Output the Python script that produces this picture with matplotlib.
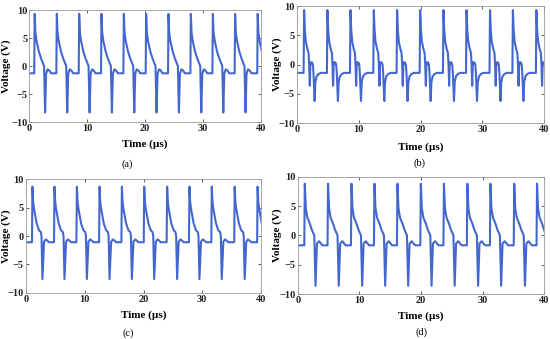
import numpy as np
import matplotlib
matplotlib.use("Agg")
import matplotlib.pyplot as plt

# ---------------- data ----------------
# rise instants (µs) of each pulse, per panel
rise_a = [0.85, 4.67, 8.53, 12.38, 16.24, 20.09, 23.95, 27.81, 31.61, 35.45, 39.35]
rise_b = [1.07, 4.84, 8.57, 12.34, 16.11, 19.84, 23.61, 27.34, 31.14, 34.84, 38.64]
rise_c = [1.02, 4.77, 8.58, 12.44, 16.24, 20.04, 23.94, 27.74, 31.54, 35.44, 39.34]
rise_d = [1.07, 4.84, 8.64, 12.37, 16.10, 19.89, 23.64, 27.44, 31.18, 35.04, 38.74]

# one pulse shape per panel: time after rise (µs) and voltage (V)
dt_a = [0, 0.08, 0.2, 0.4, 0.8, 1.2, 1.5, 1.7, 1.78, 1.88, 2.05, 2.3, 2.6, 2.9]
v_a = [-1.3, 9.3, 6.0, 4.5, 2.6, 1.3, 0.5, 0.0, -3.5, -8.3, -1.4, -0.6, -0.8, -1.3]

dt_b = [0, 0.08, 0.2, 0.35, 0.6, 0.8, 0.9, 1.0, 1.1, 1.2, 1.35, 1.5, 1.6, 1.7, 1.78, 1.9, 2.1, 2.4, 2.8]
v_b = [-1.4, 9.3, 6.0, 4.0, 2.7, 2.0, 0.0, -3.6, 0.4, 0.2, 0.4, 0.0, -1.5, -4.0, -6.2, -3.0, -2.0, -1.6, -1.4]

dt_c = [0, 0.08, 0.2, 0.35, 0.8, 1.2, 1.5, 1.62, 1.7, 1.78, 2.05, 2.35, 2.6, 2.9]
v_c = [-1.1, 8.7, 6.0, 4.8, 2.2, 1.0, 0.7, 0.0, -4.0, -7.6, -1.0, -0.6, -0.8, -1.1]

dt_d = [0, 0.08, 0.25, 0.5, 0.9, 1.2, 1.5, 1.62, 1.72, 1.82, 2.05, 2.4, 2.7, 2.95]
v_d = [-1.7, 8.8, 4.6, 3.0, 2.0, 1.0, 0.3, 0.0, -4.5, -8.6, -1.4, -1.0, -1.4, -1.7]

x_ticks = [0, 10, 20, 30, 40]
y_ticks = [-10, -5, 0, 5, 10]
captions = ["(a)", "(b)", "(c)", "(d)"]


def build(rises, dts, vs):
    t = [0.0]
    v = [vs[0]]
    for r in rises:
        for d, val in zip(dts, vs):
            t.append(r + d)
            v.append(val)
    t.append(45.0)
    v.append(vs[-1])
    return np.array(t), np.array(v)


W, H = 550, 339
fig = plt.figure(figsize=(5.5, 3.39), dpi=100)

# axes boxes in pixels: left, right, top, bottom
boxes = [(29.3, 261.0, 10.0, 122.0),
         (297.0, 544.3, 6.0, 123.3),
         (26.0, 261.0, 179.3, 292.7),
         (297.7, 544.3, 176.7, 294.0)]
caption_pos = [(127, 164), (420, 163), (128, 333), (421, 332)]
xlabel_y = [144, 147, 315, 316.5]
ylabel_x = [6.5, 277, 6.5, 277]
series = [(rise_a, dt_a, v_a), (rise_b, dt_b, v_b),
          (rise_c, dt_c, v_c), (rise_d, dt_d, v_d)]

serif = "Liberation Serif"
line_color = "#4467cf"

for i, ((l, r, tp, b), (rs, dts, vs), cap, (cx, cy)) in enumerate(zip(boxes, series, captions, caption_pos)):
    ax = fig.add_axes([l / W, (H - b) / H, (r - l) / W, (b - tp) / H])
    t, v = build(rs, dts, vs)
    ax.plot(t, v, color=line_color, lw=1.5)
    ax.set_xlim(0, 40)
    ax.set_ylim(-10, 10)
    ax.set_xticks(x_ticks)
    ax.set_yticks(y_ticks)
    ax.set_xticklabels([str(x) for x in x_ticks], fontfamily=serif, fontweight="bold", fontsize=7.5)
    ax.set_yticklabels(["\u221210", "\u22125", "0", "5", "10"], fontfamily=serif, fontweight="bold", fontsize=7.5)
    ax.tick_params(direction="in", length=2, width=0.5, pad=1.5, top=True, right=True, colors="#222222")
    for s in ax.spines.values():
        s.set_color("#999999")
        s.set_linewidth(0.6)
    ax.set_xlabel("Time (\u00b5s)", fontfamily=serif, fontweight="bold", fontsize=8)
    ax.set_ylabel("Voltage (V)", fontfamily=serif, fontweight="bold", fontsize=8)
    ax.xaxis.set_label_coords((l + r) / 2 / W, 1 - xlabel_y[i] / H, transform=fig.transFigure)
    ax.xaxis.label.set_va("center")
    ax.yaxis.set_label_coords(ylabel_x[i] / W, 1 - (tp + b) / 2 / H, transform=fig.transFigure)
    ax.yaxis.label.set_va("center")
    fig.text(cx / W, 1 - cy / H, cap, fontfamily=serif, fontsize=7.5, ha="center", va="center")

fig.savefig("out.png", dpi=100)
